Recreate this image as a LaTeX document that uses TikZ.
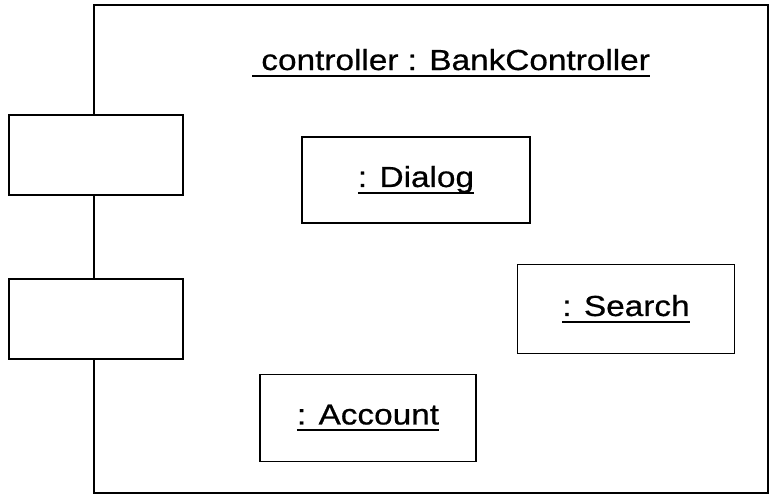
\documentclass[tikz,border=0pt]{standalone}
\usepackage{fontspec}
\setmainfont{Liberation Sans}
\newfontfamily\umlfont[FakeStretch=1.15,FakeBold=0.6]{Liberation Sans}
\usepackage{tikz}
\usetikzlibrary{positioning}
\newcommand{\ulname}[1]{\setbox0\hbox{#1}\rlap{\rule[-4pt]{\wd0}{1.3pt}}\box0}
\tikzset{
  umlline/.style={draw,line width=1.1pt},
  composite/.style={umlline,minimum width=13.48cm,minimum height=9.76cm},
  port/.style={umlline,fill=white,minimum width=3.48cm,minimum height=1.6cm},
  part/.style={umlline,fill=white,inner sep=0pt,
    font=\umlfont\fontsize{16.5}{19}\selectfont},
  title/.style={inner sep=0pt,anchor=base,
    font=\umlfont\fontsize{16.5}{19}\selectfont}
}
\begin{document}
\begin{tikzpicture}[x=0.02cm,y=-0.02cm]
  \useasboundingbox (0,0) rectangle (770,497);
  % structured class
  \node[composite] (ctrl) at (431,249) {};
  \node[title] (ctrlname) at (451,70) {\ulname{\ controller : BankController}};
  % ports on the left edge
  \node[port] (port1) at (96,155) {};
  \node[port,below=1.64cm of port1] (port2) {};
  % parts
  \node[part,minimum width=4.56cm,minimum height=1.72cm] (dialog) at (416,180) {\ulname{: Dialog}};
  \node[part,minimum width=4.34cm,minimum height=1.78cm] (search) at (626,309) {\ulname{: Search}};
  \node[part,minimum width=4.32cm,minimum height=1.74cm] (account) at (368,418) {\ulname{: Account}};
\end{tikzpicture}
\end{document}
